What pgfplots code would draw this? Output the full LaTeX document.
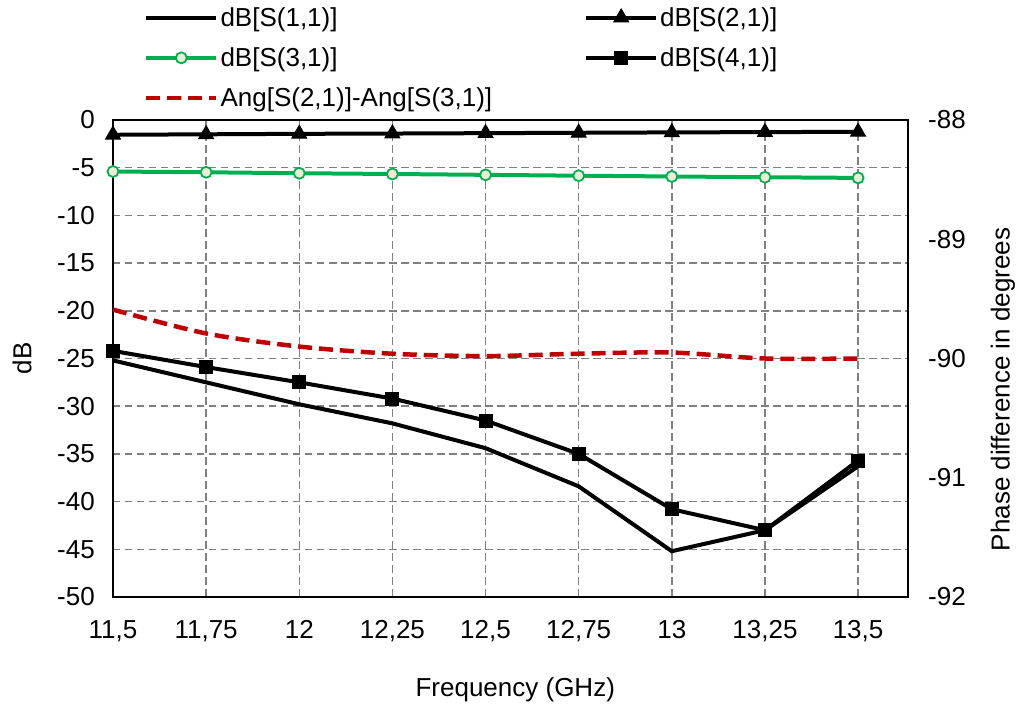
\documentclass[border=0pt]{standalone}
\usepackage{fontspec}
\setmainfont{Liberation Sans}
\usepackage{pgfplots}
\pgfplotsset{compat=1.18}
\definecolor{sgreen}{HTML}{00B050}
\definecolor{sred}{HTML}{C00000}
\definecolor{sbeige}{HTML}{EFEBD8}
\definecolor{sgrid}{HTML}{808080}
\pgfplotsset{
 common/.style={
  at={(0,0)}, anchor=south west, scale only axis, width=795pt, height=477pt,
  xmin=11.5, xmax=13.634,
  /pgf/number format/assume math mode=true,
  major tick length=0pt,
  every tick label/.append style={inner sep=0pt, font=\fontsize{26}{31}\selectfont},
  axis line style={line width=2.5pt},
  label style={font=\fontsize{26}{31}\selectfont},
 },
}
\begin{document}
\begin{tikzpicture}[font=\fontsize{26}{31}\selectfont]
\useasboundingbox (-113pt,-112pt) rectangle (905pt,597pt);
\begin{axis}[common,
 ymin=-50, ymax=0, ytick={-50,-45,-40,-35,-30,-25,-20,-15,-10,-5,0},
 xtick={11.5,11.75,12,12.25,12.5,12.75,13,13.25,13.5},
 xticklabels={{11,5},{11,75},{12},{12,25},{12,5},{12,75},{13},{13,25},{13,5}},
 xticklabel shift=23pt, yticklabel shift=18pt,
 grid=major, grid style={sgrid, line width=1.5pt, dash pattern=on 7.5pt off 4.5pt},
 xlabel={Frequency (GHz)}, xlabel style={at={(axis description cs:0.506,-0.195)}, anchor=center},
 ylabel={dB}, ylabel style={at={(axis description cs:-0.1145,0.5)}, anchor=center},
 legend columns=2,
 legend style={at={(axis description cs:0.035,1.245)}, anchor=north west, draw=none, fill=none,
   font=\fontsize{26}{31}\selectfont, legend cell align=left, row sep=16pt,
   /tikz/every even column/.append style={column sep=90pt}},
 legend image code/.code={\draw[mark repeat=2,mark phase=2,#1] plot coordinates {(0pt,0pt) (35pt,0pt) (70pt,0pt)};},
]
\addplot[black, line width=4pt, mark=none] coordinates {
(11.5,-25.2) (11.75,-27.5) (12,-29.8) (12.25,-31.8) (12.5,-34.4) (12.75,-38.4) (13,-45.2) (13.25,-43.0) (13.5,-36.3)};
\addlegendentry{dB[S(1,1)]}
\addplot[black, line width=4pt, mark=triangle*, mark size=8.5pt, mark options={line width=1pt}] coordinates {
(11.5,-1.55) (11.75,-1.5) (12,-1.45) (12.25,-1.42) (12.5,-1.38) (12.75,-1.34) (13,-1.3) (13.25,-1.27) (13.5,-1.24)};
\addlegendentry{dB[S(2,1)]}
\addplot[sgreen, line width=4pt, mark=*, mark size=5.5pt, mark options={fill=sbeige, draw=sgreen, line width=1.8pt}] coordinates {
(11.5,-5.4) (11.75,-5.48) (12,-5.58) (12.25,-5.66) (12.5,-5.75) (12.75,-5.84) (13,-5.92) (13.25,-6.0) (13.5,-6.07)};
\addlegendentry{dB[S(3,1)]}
\addplot[black, line width=4pt, mark=square*, mark size=6.5pt, mark options={line width=1pt}] coordinates {
(11.5,-24.2) (11.75,-25.9) (12,-27.5) (12.25,-29.2) (12.5,-31.5) (12.75,-35.0) (13,-40.8) (13.25,-43.0) (13.5,-35.7)};
\addlegendentry{dB[S(4,1)]}
\addlegendimage{sred, line width=4.5pt, dash pattern=on 14pt off 7pt}
\addlegendentry{Ang[S(2,1)]-Ang[S(3,1)]}
\end{axis}
\begin{axis}[common,
 ymin=-92, ymax=-88, ytick={-92,-91,-90,-89,-88},
 axis y line*=right, axis x line=none,
 yticklabel shift=20pt,
 ylabel={Phase difference in degrees}, ylabel style={at={(axis description cs:1.1195,0.435)}, anchor=center},
]
\addplot[sred, line width=4.5pt, dash pattern=on 14pt off 7pt, smooth, tension=0.5] coordinates {
(11.5,-89.59) (11.75,-89.79) (12,-89.90) (12.25,-89.96) (12.5,-89.98) (12.75,-89.96) (13,-89.95) (13.25,-90.0) (13.5,-90.0)};
\end{axis}
\end{tikzpicture}
\end{document}
